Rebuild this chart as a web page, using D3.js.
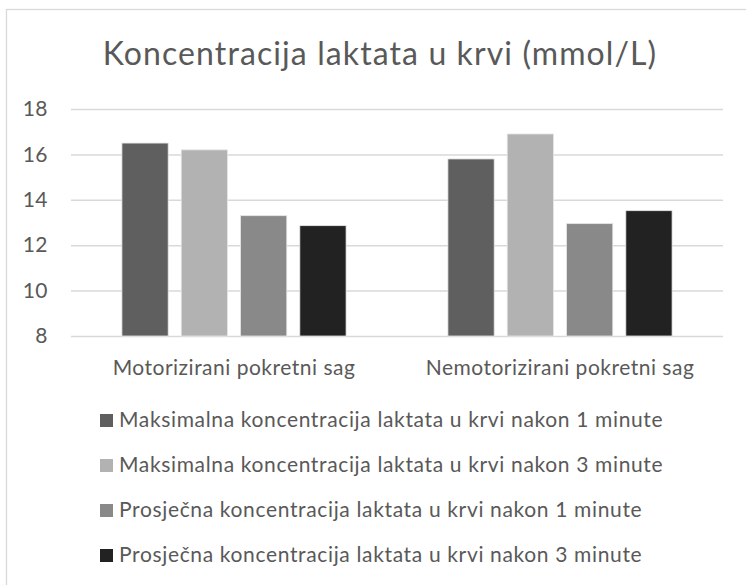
<!DOCTYPE html>
<html><head><meta charset="utf-8">
<script src="https://cdn.jsdelivr.net/npm/d3@7"></script>
<style>
html,body{margin:0;padding:0;background:#fff;}
svg{display:block;font-family:Lato,"Open Sans",sans-serif;}
</style></head>
<body>
<script>
const title = "Koncentracija laktata u krvi (mmol/L)";
const categories = ["Motorizirani pokretni sag", "Nemotorizirani pokretni sag"];
const seriesNames = [
  "Maksimalna koncentracija laktata u krvi nakon 1 minute",
  "Maksimalna koncentracija laktata u krvi nakon 3 minute",
  "Prosječna koncentracija laktata u krvi nakon 1 minute",
  "Prosječna koncentracija laktata u krvi nakon 3 minute"
];
const seriesColors = ["#5f5f5f", "#b2b2b2", "#898989", "#222222"];
const maxAfter1 = [16.5, 15.8];
const maxAfter3 = [16.2, 16.9];
const avgAfter1 = [13.3, 12.95];
const avgAfter3 = [12.86, 13.52];
const seriesValues = [maxAfter1, maxAfter3, avgAfter1, avgAfter3];
const yTicks = [8, 10, 12, 14, 16, 18];

const W = 746, H = 585;
const FONT = "Lato,'Open Sans',sans-serif";
const svg = d3.select("body").append("svg").attr("width", W).attr("height", H);

// chart border
svg.append("rect").attr("x", 6.5).attr("y", 9.5).attr("width", 760).attr("height", 600)
  .attr("fill", "#fff").attr("stroke", "#d9d9d9").attr("stroke-width", 1.3);

// title
svg.append("text").attr("x", 380).attr("y", 64.5).attr("text-anchor", "middle")
  .attr("font-size", 32).attr("letter-spacing", 1.1).attr("fill", "#595959").text(title);

const plot = {left: 71, right: 723, top: 109, bottom: 336};
const y = d3.scaleLinear().domain([8, 18]).range([plot.bottom, plot.top]);
const x0 = d3.scaleBand().domain(categories).range([plot.left, plot.right]);
const x1 = d3.scaleBand().domain(d3.range(seriesNames.length))
  .range([44.4, x0.bandwidth() - 44.4]).paddingInner(0.22).paddingOuter(0.11);

// gridlines + y tick labels
const yAxis = d3.axisLeft(y).tickValues(yTicks).tickSize(-(plot.right - plot.left)).tickPadding(23);
const gy = svg.append("g").attr("transform", `translate(${plot.left},0)`).call(yAxis);
gy.select(".domain").remove();
gy.selectAll(".tick line").attr("stroke", "#d9d9d9").attr("stroke-width", 1.5);
gy.selectAll(".tick text").attr("fill", "#595959").attr("font-size", 21)
  .attr("font-family", FONT).attr("letter-spacing", 0.5);

// bars
const groups = svg.append("g").selectAll("g").data(categories).join("g")
  .attr("transform", d => `translate(${x0(d)},0)`);
groups.selectAll("rect").data((c, ci) => seriesValues.map((vals, si) => ({si, v: vals[ci]})))
  .join("rect")
  .attr("x", d => x1(d.si)).attr("width", x1.bandwidth())
  .attr("y", d => y(d.v)).attr("height", d => y(8) - y(d.v))
  .attr("fill", d => seriesColors[d.si])
  .attr("stroke", "#e6e6e6").attr("stroke-width", 0.8);

// category labels
const xAxis = d3.axisBottom(x0).tickSize(0).tickPadding(0);
const gx = svg.append("g").attr("transform", `translate(0,${plot.bottom})`).call(xAxis);
gx.select(".domain").remove();
gx.selectAll(".tick text").attr("dy", null).attr("y", 39)
  .attr("fill", "#595959").attr("font-size", 21).attr("letter-spacing", 0.5)
  .attr("font-family", FONT);

// legend
const legend = svg.append("g");
const items = legend.selectAll("g").data(seriesNames).join("g")
  .attr("transform", (d, i) => `translate(100,${427 + i * 45})`);
items.append("rect").attr("x", 0).attr("y", -13).attr("width", 13).attr("height", 13)
  .attr("fill", (d, i) => seriesColors[i]);
items.append("text").attr("x", 19).attr("y", 0).attr("font-size", 21)
  .attr("letter-spacing", 0.65).attr("fill", "#595959").text(d => d);
</script>
</body></html>
